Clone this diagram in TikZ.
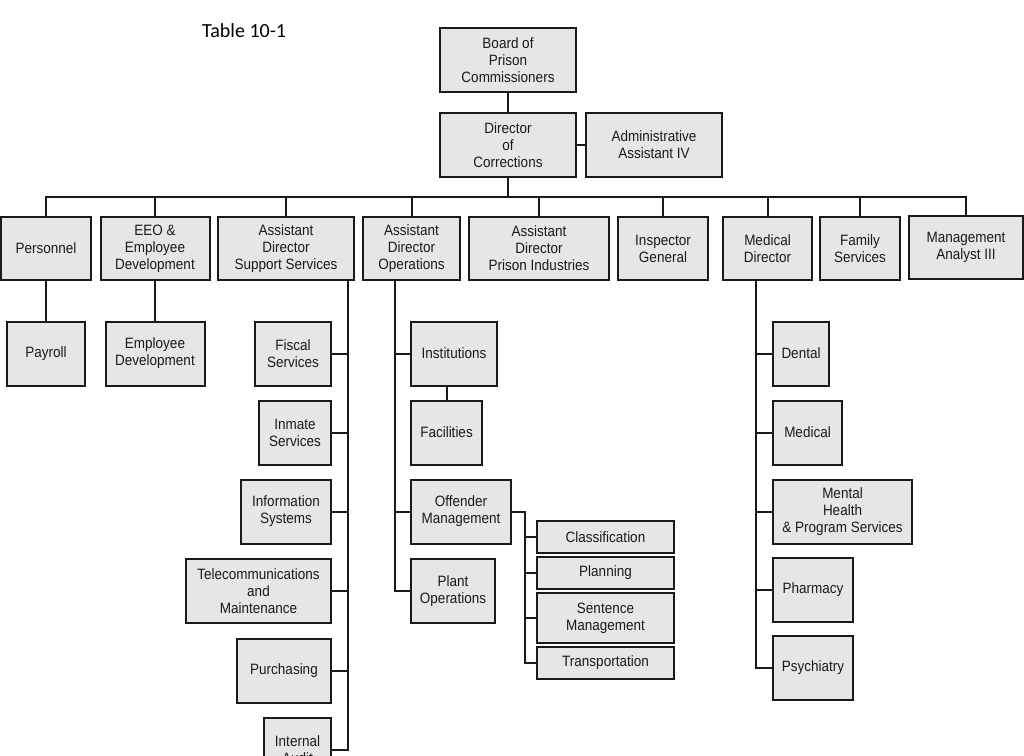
\documentclass[tikz,border=0pt]{standalone}
\usepackage{fontspec}
\setmainfont{Liberation Sans}[FakeStretch=0.9]
\newfontfamily\captionfont{Carlito}
\definecolor{boxgray}{HTML}{E6E6E7}
\definecolor{inkgray}{HTML}{1A1A1A}
\tikzset{
  unit/.style={draw=inkgray, fill=boxgray, line width=2pt, align=center, inner sep=0pt,
    text=inkgray, font=\fontsize{15}{17}\selectfont},
  link/.style={draw=inkgray, line width=2pt},
}

\begin{document}
\begin{tikzpicture}[x=1pt, y=-1pt]
    \useasboundingbox (0,0) rectangle (1024,755) ;
    \node[anchor=west, inner sep=0pt, font=\captionfont\fontsize{20}{24}\selectfont] (title) at (202,31) {Table 10-1} ;

    % top of the chart
    \node[unit, minimum width=136, minimum height=64] (board) at (508,60) {Board of\\Prison\\Commissioners} ;
    \node[unit, minimum width=136, minimum height=64] (director) at (508,145) {Director\\of\\Corrections} ;
    \node[unit, minimum width=136, minimum height=64] (admin) at (654,145) {Administrative\\Assistant IV} ;
    \draw[link] (board) -- (director) ;
    \draw[link] (director) -- (admin) ;

    % first row
    \node[unit, minimum width=90, minimum height=63] (personnel) at (46,248.5) {Personnel} ;
    \node[unit, minimum width=109, minimum height=63] (eeo) at (155,248.5) {EEO \&\\Employee\\Development} ;
    \node[unit, minimum width=136, minimum height=63] (support) at (286,248.5) {Assistant\\Director\\Support Services} ;
    \node[unit, minimum width=97, minimum height=63] (ops) at (411.5,248.5) {Assistant\\Director\\Operations} ;
    \node[unit, minimum width=140, minimum height=63] (industries) at (539,248.5) {Assistant\\Director\\Prison Industries} ;
    \node[unit, minimum width=90, minimum height=63] (inspector) at (663,248.5) {Inspector\\General} ;
    \node[unit, minimum width=89, minimum height=63] (meddir) at (767.5,248.5) {Medical\\Director} ;
    \node[unit, minimum width=80, minimum height=63] (family) at (860,248.5) {Family\\Services} ;
    \node[unit, minimum width=114, minimum height=63] (analyst) at (966,247) {Management\\Analyst III} ;

    \draw[link] (director) -- (508,197) coordinate (bus) ;
    \draw[link] (personnel.north) |- (bus) -| (analyst.north) ;
    \foreach \n in {eeo,support,ops,industries,inspector,meddir,family}
        \draw[link] (\n.north) -- (\n.north |- bus) ;

    % personnel and eeo
    \node[unit, minimum width=78, minimum height=64] (payroll) at (46,353.5) {Payroll} ;
    \node[unit, minimum width=99, minimum height=64] (empdev) at (155,353.5) {Employee\\Development} ;
    \draw[link] (personnel) -- (payroll) ;
    \draw[link] (eeo) -- (empdev) ;

    % support services
    \node[unit, minimum width=76, minimum height=64] (fiscal) at (293,353.5) {Fiscal\\Services} ;
    \node[unit, minimum width=72, minimum height=64] (inmate) at (295,432.5) {Inmate\\Services} ;
    \node[unit, minimum width=90, minimum height=64] (infosys) at (286,511.5) {Information\\Systems} ;
    \node[unit, minimum width=145, minimum height=64] (telecom) at (258.5,591) {Telecommunications\\and\\Maintenance} ;
    \node[unit, minimum width=94, minimum height=64] (purchasing) at (284,670.5) {Purchasing} ;
    \node[unit, minimum width=67, minimum height=64] (audit) at (297.5,750) {Internal\\Audit} ;
    \path (support.south) ++(62,0) coordinate (suptop) ;
    \draw[link] (suptop) |- (audit.east) ;
    \foreach \n in {fiscal,inmate,infosys,telecom,purchasing}
        \draw[link] (\n.east) -- (\n.east -| suptop) ;

    % operations
    \node[unit, minimum width=86, minimum height=64] (institutions) at (454,353.5) {Institutions} ;
    \node[unit, minimum width=71, minimum height=64] (facilities) at (446.5,432.5) {Facilities} ;
    \node[unit, minimum width=100, minimum height=64] (offender) at (461,511.5) {Offender\\Management} ;
    \node[unit, minimum width=84, minimum height=64] (plant) at (453,591) {Plant\\Operations} ;
    \path (ops.south) ++(-16.5,0) coordinate (opstop) ;
    \draw[link] (opstop) |- (plant.west) ;
    \foreach \n in {institutions,offender}
        \draw[link] (\n.west) -- (\n.west -| opstop) ;
    \draw[link] (facilities.north) -- (facilities.north |- institutions.south) ;

    \node[unit, minimum width=137, minimum height=32] (classif) at (605.5,537) {Classification} ;
    \node[unit, minimum width=137, minimum height=32] (planning) at (605.5,573) {Planning} ;
    \node[unit, minimum width=137, minimum height=50] (sentence) at (605.5,618) {Sentence\\Management} ;
    \node[unit, minimum width=137, minimum height=32] (transport) at (605.5,663) {Transportation} ;
    \draw[link] (offender.east) -- ++(13,0) coordinate (offtrunk) |- (transport.west) ;
    \foreach \n in {classif,planning,sentence}
        \draw[link] (\n.west) -- (\n.west -| offtrunk) ;

    % medical
    \node[unit, minimum width=56, minimum height=64] (dental) at (801,353.5) {Dental} ;
    \node[unit, minimum width=69, minimum height=64] (medical) at (807.5,432.5) {Medical} ;
    \node[unit, minimum width=139, minimum height=64] (mental) at (842.5,511.5) {Mental\\Health\\\& Program Services} ;
    \node[unit, minimum width=80, minimum height=64] (pharmacy) at (813,590) {Pharmacy} ;
    \node[unit, minimum width=80, minimum height=64] (psychiatry) at (813,668) {Psychiatry} ;
    \path (meddir.south) ++(-11.5,0) coordinate (medtop) ;
    \draw[link] (medtop) |- (psychiatry.west) ;
    \foreach \n in {dental,medical,mental,pharmacy}
        \draw[link] (\n.west) -- (\n.west -| medtop) ;
\end{tikzpicture}
\end{document}
